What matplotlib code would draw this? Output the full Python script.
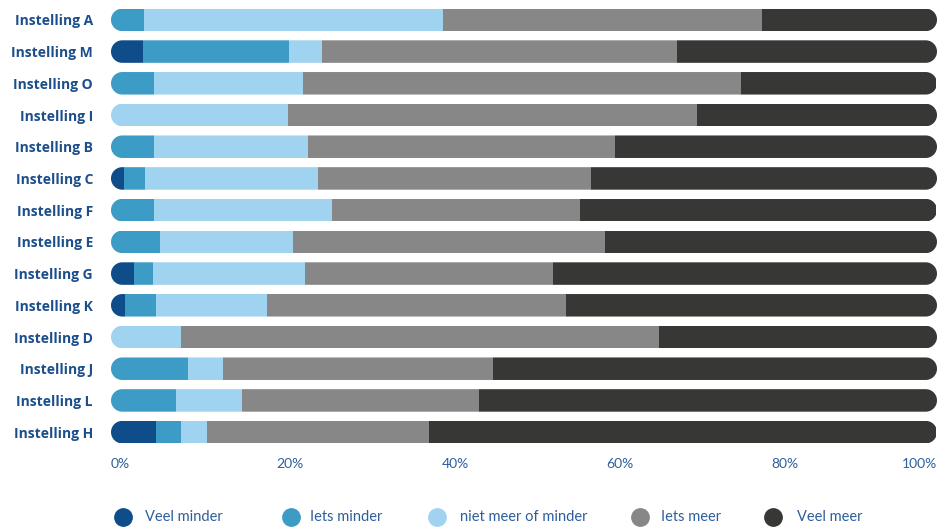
import numpy as np
import matplotlib
matplotlib.use('Agg')
import matplotlib.pyplot as plt
from matplotlib.patches import PathPatch
from matplotlib.path import Path
from matplotlib.lines import Line2D

# percentages per instelling (top to bottom)
instellingen = ['Instelling A', 'Instelling M', 'Instelling O', 'Instelling I',
                'Instelling B', 'Instelling C', 'Instelling F', 'Instelling E',
                'Instelling G', 'Instelling K', 'Instelling D', 'Instelling J',
                'Instelling L', 'Instelling H']
veel_minder = [0.0, 3.9, 0.0, 0.0, 0.0, 1.6, 0.0, 0.0, 2.8, 1.7, 0.0, 0.0, 0.0, 5.4]
iets_minder = [4.0, 17.6, 5.2, 0.0, 5.2, 2.5, 5.2, 5.9, 2.3, 3.8, 0.0, 9.3, 7.9, 3.1]
niet_meer_of_minder = [36.2, 4.0, 18.0, 21.4, 18.6, 20.9, 21.5, 16.1, 18.4, 13.4, 8.5, 4.2, 8.0, 3.1]
iets_meer = [38.6, 43.0, 53.1, 49.5, 37.2, 33.1, 30.1, 37.8, 30.0, 36.2, 57.9, 32.7, 28.7, 26.9]
veel_meer = [21.2, 31.6, 23.6, 29.1, 39.0, 41.9, 43.1, 40.2, 46.5, 44.9, 33.7, 53.8, 55.4, 61.4]

reeksen = ['Veel minder', 'Iets minder', 'niet meer of minder', 'Iets meer', 'Veel meer']
kleuren = ['#0f4c8a', '#3d9cc5', '#9fd3ef', '#878787', '#373735']
ticks = [0, 20, 40, 60, 80, 100]
tick_labels = ['0%', '20%', '40%', '60%', '80%', '100%']

W, H = 949, 527
fig = plt.figure(figsize=(W / 100, H / 100), dpi=100)
ax = fig.add_axes([111 / W, 1 - 448 / H, (937 - 111) / W, (448 - 4) / H])

n = len(instellingen)
y = np.arange(n)
hoogte = 0.71
data = [veel_minder, iets_minder, niet_meer_of_minder, iets_meer, veel_meer]

links = np.zeros(n)
balken = []
for waarden, kleur, naam in zip(data, kleuren, reeksen):
    b = ax.barh(y, waarden, left=links, height=hoogte, color=kleur, linewidth=0, label=naam)
    balken.append(b)
    links += np.array(waarden)

ax.set_xlim(0, 100)
ax.set_ylim(n - 0.5, -0.5)


def pil_pad(yc, h, rx, x0=0.0, x1=100.0):
    # pill shaped outline in data coords, rx is the cap radius in x units
    t = np.linspace(-np.pi / 2, np.pi / 2, 40)
    rechts = np.column_stack([x1 - rx + rx * np.cos(t), yc + h / 2 * np.sin(t)])
    links_ = np.column_stack([x0 + rx - rx * np.cos(t), yc - h / 2 * np.sin(t)])
    verts = np.vstack([rechts, links_, rechts[:1]])
    codes = [Path.MOVETO] + [Path.LINETO] * (len(verts) - 2) + [Path.CLOSEPOLY]
    return Path(verts, codes)


# rounded ends: clip every row with a pill shape
px_x = (937 - 111) / 100.0
px_y = (448 - 4) / float(n)
rx = (hoogte / 2) * px_y / px_x
for i in range(n):
    pil = PathPatch(pil_pad(i, hoogte, rx), transform=ax.transData,
                    facecolor='none', edgecolor='none')
    ax.add_patch(pil)
    for b in balken:
        b.patches[i].set_clip_path(pil)

for s in ax.spines.values():
    s.set_visible(False)

ax.set_yticks(y)
ax.set_yticklabels(instellingen, fontfamily='Open Sans', fontweight='bold',
                   fontsize=10, color='#1c4e8c')
ax.tick_params(axis='y', length=0, pad=13)

ax.set_xticks(ticks)
ax.set_xticklabels(tick_labels, fontfamily='Lato', fontsize=10, color='#2d5f9c')
ax.tick_params(axis='x', length=0, pad=7)
for lab in ax.get_xticklabels():
    lab.set_ha('left')
ax.get_xticklabels()[-1].set_ha('right')

# legend along the bottom
leg_x = [123, 291, 437, 640, 773]
tekst_x = [145, 310, 460, 661, 797]
leg_y = 1 - 517 / H
for xm, xt, kleur, naam in zip(leg_x, tekst_x, kleuren, reeksen):
    fig.add_artist(Line2D([xm / W], [leg_y], marker='o', markersize=12.5,
                          color=kleur, linestyle='none', transform=fig.transFigure))
    fig.text(xt / W, leg_y, naam, fontfamily='Lato', fontsize=10.5,
             color='#2d5f9c', va='center', ha='left')

fig.savefig('out.png', dpi=100)
